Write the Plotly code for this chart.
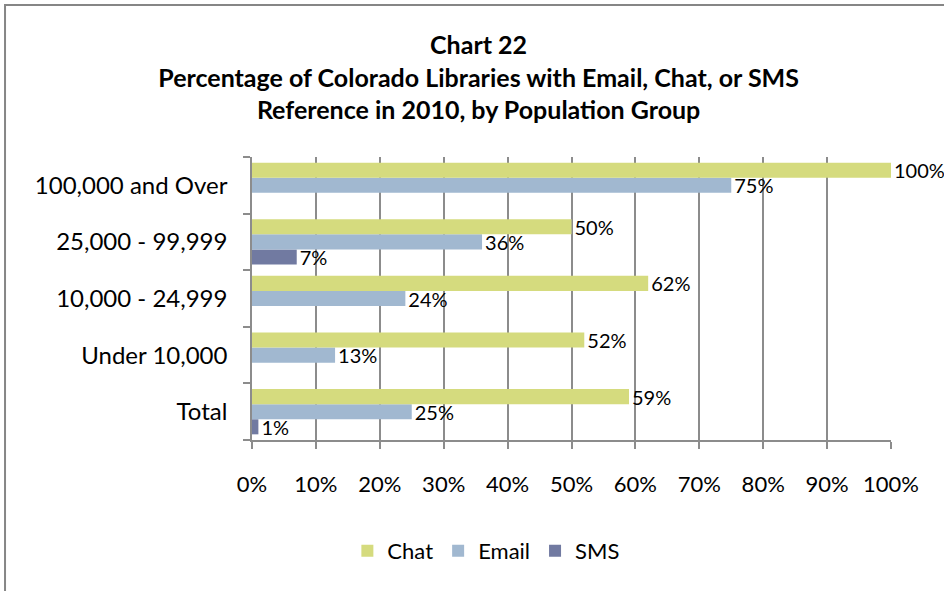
import plotly.graph_objects as go

categories = ["Total", "Under 10,000", "10,000 - 24,999", "25,000 - 99,999", "100,000 and Over"]
chat = [59, 52, 62, 50, 100]
email = [25, 13, 24, 36, 75]
sms = [1, 0, 0, 7, 0]
x_ticks = [0, 10, 20, 30, 40, 50, 60, 70, 80, 90, 100]

FONT = "Lato"
colors = {"Chat": "#d5db7e", "Email": "#a1b8d0", "SMS": "#717aa1"}

def labels(vals):
    return [f"{v}%" if v > 0 else "" for v in vals]

fig = go.Figure()
for name, vals in [("SMS", sms), ("Email", email), ("Chat", chat)]:
    fig.add_trace(go.Bar(
        name=name, y=categories, x=vals, orientation="h",
        marker=dict(color=colors[name], line=dict(width=0)),
        text=labels(vals), textposition="outside", constraintext="none",
        textfont=dict(family=FONT, size=20, color="#000000"),
        cliponaxis=False,
    ))

fig.update_layout(
    width=944, height=591,
    margin=dict(l=252, r=53, t=157, b=151),
    paper_bgcolor="white", plot_bgcolor="white",
    barmode="group", bargap=0.2, bargroupgap=0,
    title=dict(
        text="<b>Chart 22<br>Percentage of Colorado Libraries with Email, Chat, or SMS<br>Reference in 2010, by Population Group</b>",
        x=0.507, xanchor="center", yref="container", y=1 - 54 / 591, yanchor="middle",
        font=dict(family=FONT, size=25, color="#000000"),
    ),
    legend=dict(
        orientation="h", x=0.366, xanchor="center", y=-0.392, yanchor="middle",
        traceorder="reversed", font=dict(family=FONT, size=22, color="#000000"),
    ),
    showlegend=True,
)

fig.update_xaxes(
    range=[0, 100], tickvals=x_ticks, ticktext=[f"{v}%" for v in x_ticks],
    showgrid=True, gridcolor="#8c8c8c", gridwidth=1.5,
    showline=True, linecolor="#8c8c8c", linewidth=1.5,
    ticks="outside", ticklen=7, tickcolor="#8c8c8c", tickwidth=1.5,
    tickfont=dict(family=FONT, size=22, color="#000000"),
    ticklabelstandoff=17, zeroline=False, automargin=False,
)
fig.update_yaxes(
    categoryorder="array", categoryarray=categories,
    showgrid=False, showline=True, linecolor="#8c8c8c", linewidth=1.5,
    ticks="outside", ticklen=7, tickcolor="#8c8c8c", tickwidth=1.5,
    tickson="boundaries",
    tickfont=dict(family=FONT, size=24, color="#000000"),
    ticklabelstandoff=18, automargin=False,
)

fig.add_shape(type="rect", xref="paper", yref="paper",
              x0=-0.3865, x1=1.1, y0=-0.6, y1=1.537,
              line=dict(color="#868686", width=2), fillcolor="rgba(0,0,0,0)", layer="below")

fig.write_html("out.html", config={"displayModeBar": False},
               post_script="document.body.style.margin='0';")
